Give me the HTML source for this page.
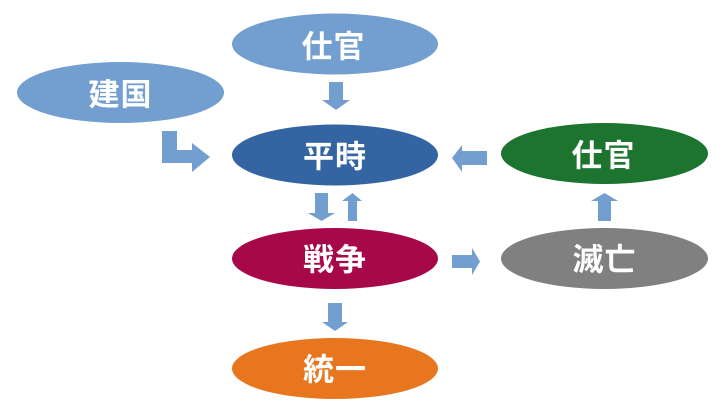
<!DOCTYPE html>
<html><head><meta charset="utf-8"><style>
html,body{margin:0;padding:0;background:#fff;}
svg{display:block;}
text{font-family:"Liberation Sans","Noto Sans CJK JP",sans-serif;font-weight:bold;font-size:31px;letter-spacing:1px;fill:#fff;}
</style></head><body>
<svg width="723" height="416" viewBox="0 0 723 416" xmlns="http://www.w3.org/2000/svg">
<g fill="#729fcf">
<!-- down arrow 仕官 -> 平時 -->
<polygon points="329,82 343,82 343,100 350,100 336,110 322,100 329,100"/>
<!-- bent arrow 建国 -> 平時 -->
<polygon points="162,131 177,131 177,150 192,150 192,143 210,157 192,172 192,163 162,163"/>
<!-- left arrow 仕官(green) -> 平時 -->
<polygon points="487,151 487,165 462,165 462,172 452,158 462,145 462,151"/>
<!-- down arrow 平時 -> 戦争 -->
<polygon points="315,193 328,193 328,213 335,213 321.5,221 308,213 315,213"/>
<!-- up arrow 戦争 -> 平時 -->
<polygon points="348,221 357,221 357,201 362,201 352.5,193 342,201 348,201"/>
<!-- right arrow 戦争 -> 滅亡 -->
<polygon points="452,255 472,255 472,248 480,261.5 472,275 472,268 452,268"/>
<!-- up arrow 滅亡 -> 仕官 -->
<polygon points="598,221 611,221 611,201 618,201 604.5,193 591,201 598,201"/>
<!-- down arrow 戦争 -> 統一 -->
<polygon points="328,303 342,303 342,322 348,322 335,331 322,322 328,322"/>
</g>
<ellipse cx="335" cy="44" rx="103" ry="30.5" fill="#729fcf"/>
<ellipse cx="120.5" cy="92.5" rx="103.5" ry="30.5" fill="#729fcf"/>
<ellipse cx="335" cy="155" rx="103" ry="30.5" fill="#3465a2"/>
<ellipse cx="604.5" cy="153.5" rx="103.5" ry="30.5" fill="#1c742e"/>
<ellipse cx="335" cy="258.5" rx="103" ry="30.5" fill="#a6084a"/>
<ellipse cx="604.5" cy="258.5" rx="103.5" ry="30.5" fill="#808080"/>
<ellipse cx="335" cy="368.5" rx="103" ry="30.5" fill="#e8761f"/>
<text x="333.5" y="47" text-anchor="middle" dominant-baseline="central">仕官</text>
<text x="120.5" y="95" text-anchor="middle" dominant-baseline="central">建国</text>
<text x="335" y="157" text-anchor="middle" dominant-baseline="central">平時</text>
<text x="603.5" y="156" text-anchor="middle" dominant-baseline="central">仕官</text>
<text x="335" y="260" text-anchor="middle" dominant-baseline="central">戦争</text>
<text x="604.5" y="260" text-anchor="middle" dominant-baseline="central">滅亡</text>
<text x="335" y="370" text-anchor="middle" dominant-baseline="central">統一</text>
</svg>
</body></html>
